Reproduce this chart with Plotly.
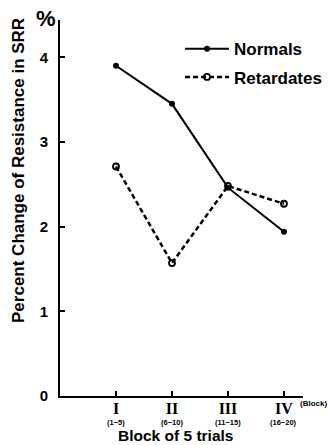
import plotly.graph_objects as go

blocks = [1, 2, 3, 4]
block_labels = ["I", "II", "III", "IV"]
trial_ranges = ["(1−5)", "(6−10)", "(11−15)", "(16−20)"]
normals = [3.90, 3.45, 2.46, 1.94]
retardates = [2.71, 1.57, 2.48, 2.27]
y_ticks = [0, 1, 2, 3, 4]

FONT = "Liberation Sans, Arial, sans-serif"

fig = go.Figure()
fig.add_trace(go.Scatter(
    x=blocks, y=normals, name="<b>Normals</b>", mode="lines+markers",
    legendgroup="n",
    line=dict(color="black", width=2),
    marker=dict(symbol="circle", size=6, color="black"),
))
fig.add_trace(go.Scatter(
    x=blocks, y=retardates, name="<b>Retardates</b>", mode="lines+markers",
    legendgroup="r",
    line=dict(color="black", width=2.5, dash="5px,3px"),
    marker=dict(symbol="circle-open", size=6, color="black", line=dict(width=1.8)),
))

annotations = [
    dict(text="<b>%</b>", xref="paper", yref="paper", x=-0.058, y=1.003,
         xanchor="center", yanchor="middle", showarrow=False,
         font=dict(size=22, family=FONT)),
    dict(text="<b>(Block)</b>", xref="paper", yref="paper", x=0.978, y=-0.019,
         xanchor="left", yanchor="middle", showarrow=False,
         font=dict(size=8, family=FONT)),
    dict(text="<b>Percent Change of Resistance in SRR</b>", xref="paper", yref="paper",
         x=-0.173, y=0.601, xanchor="center", yanchor="middle", textangle=-90,
         showarrow=False, font=dict(size=17, family=FONT)),
    dict(text="<b>Block of 5 trials</b>", xref="paper", yref="paper",
         x=0.477, y=-0.106, xanchor="center", yanchor="middle",
         showarrow=False, font=dict(size=15.5, family=FONT)),
]
for b, t in zip(blocks, trial_ranges):
    annotations.append(dict(text=f"<b>{t}</b>", x=b, xref="x", yref="paper", y=-0.07,
                            xanchor="center", yanchor="middle", showarrow=False,
                            font=dict(size=7.5, family=FONT)))

fig.update_layout(
    width=328, height=445,
    margin=dict(l=60, r=25, t=20, b=49, autoexpand=False),
    paper_bgcolor="white", plot_bgcolor="white",
    font=dict(family=FONT, color="black"),
    showlegend=True,
    legend=dict(x=0.494, y=0.97, xanchor="left", yanchor="top",
                font=dict(size=17, family=FONT), bgcolor="rgba(0,0,0,0)",
                itemwidth=44, traceorder="grouped", tracegroupgap=3),
    xaxis=dict(
        range=[0, 4.34], tickvals=blocks,
        ticktext=[f"<b>{r}</b>" for r in block_labels],
        showline=True, linecolor="black", linewidth=2,
        ticks="inside", ticklen=5, tickwidth=1.5, tickcolor="black",
        showgrid=False, zeroline=False, automargin=False,
        tickfont=dict(size=16, family="Liberation Serif, Times New Roman, serif"),
        ticklabelstandoff=-3,
    ),
    yaxis=dict(
        range=[0, 4.44], tickvals=y_ticks, ticktext=[f"<b>{v}</b>" for v in y_ticks],
        showline=True, linecolor="black", linewidth=2,
        ticks="inside", ticklen=5, tickwidth=1.5, tickcolor="black",
        showgrid=False, zeroline=False, automargin=False,
        tickfont=dict(size=15, family=FONT),
        ticklabelstandoff=7,
    ),
    annotations=annotations,
)

fig.write_html(
    "out.html",
    config={"displayModeBar": False},
    post_script="document.body.style.margin='0';document.body.style.overflow='hidden';",
)
